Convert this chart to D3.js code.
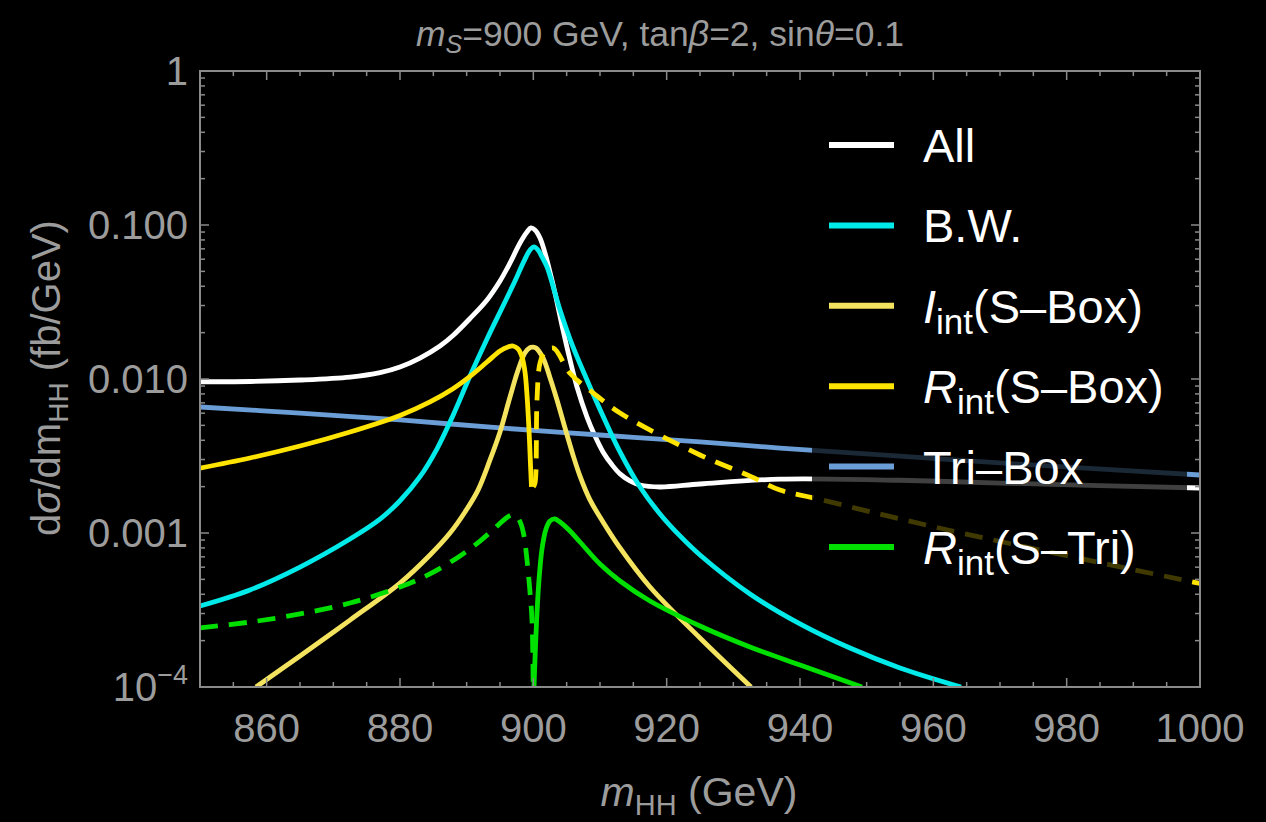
<!DOCTYPE html>
<html>
<head>
<meta charset="utf-8">
<script src="https://cdn.jsdelivr.net/npm/d3@7/dist/d3.min.js"></script>
<style>
  html, body { margin: 0; padding: 0; background: #000; }
  svg { display: block; }
  text { font-family: "Liberation Sans", Arial, sans-serif; }
</style>
</head>
<body>
<svg id="chart" width="1266" height="822"></svg>
<script>
// ---- data: m_HH (GeV) and dσ/dm_HH (fb/GeV) ----
const allM = [850, 857.5, 865, 872.5, 877, 880, 883, 886, 887.95, 890.5, 893.05, 895, 896.5, 898, 899.05, 899.65,
  900.25, 901, 901.75, 902.5, 903.25, 904.45, 905.5, 906.55, 908.05, 909.25, 910.45, 911.8, 913, 914.5, 916, 919, 925, 937, 955, 970, 1000];
const allV = [0.0096, 0.00963, 0.00985, 0.0103, 0.011, 0.01197, 0.01368, 0.01638, 0.01916, 0.0247, 0.0326, 0.0433, 0.0567, 0.0764, 0.0901, 0.0957,
  0.0928, 0.0824, 0.0658, 0.0495, 0.0362, 0.0208, 0.0133, 0.00887, 0.00566, 0.00426, 0.00336, 0.00277, 0.00242, 0.00218, 0.00205, 0.00199, 0.00208, 0.00224, 0.0022, 0.00211, 0.00196];

const bwM = [850, 857.5, 865, 872.5, 877, 880, 883, 885.55, 887.95, 890.5, 893.05, 895.45, 897.25, 898.6, 899.5, 900.1,
  900.7, 901.3, 902.05, 904, 905.95, 908.05, 910.45, 913, 916, 919, 922, 925, 932.5, 940, 947.5, 955, 964.15];
const bwV = [0.000336, 0.000427, 0.000601, 0.000914, 0.00123, 0.00162, 0.00232, 0.00352, 0.0058, 0.01045, 0.0182, 0.0298, 0.0433, 0.0583, 0.0688, 0.072,
  0.0688, 0.062, 0.0534, 0.0281, 0.01614, 0.00986, 0.00575, 0.00336, 0.00199, 0.00133, 0.000957, 0.00072, 0.000402, 0.000257, 0.000179, 0.000133, 0.0001];

const iSBoxM = [858.4, 865, 872.5, 880, 884.5, 887.5, 889.75, 891.7, 893.5, 895, 896.5, 897.7, 898.75, 899.5, 899.95,
  900.4, 901.45, 902.5, 903.55, 904.75, 905.95, 907, 908.5, 910.45, 913, 917.5, 925, 932.65];
const iSBoxV = [0.0001, 0.000159, 0.000272, 0.000473, 0.00072, 0.001, 0.00137, 0.0019, 0.00298, 0.00453, 0.00764, 0.0114, 0.0148, 0.016, 0.0161,
  0.0159, 0.0137, 0.0102, 0.00731, 0.00481, 0.00321, 0.00234, 0.00164, 0.00118, 0.0008, 0.000446, 0.000208, 0.0001];

// R_int(S-Box): positive part (solid) and |negative part| (dashed)
const rSBoxPosM = [850, 857.5, 865, 872.5, 880, 884.5, 887.95, 890.5, 893.05, 895, 896.2, 896.95, 897.7, 898.3, 898.75, 899.05, 899.35, 899.575, 899.725];
const rSBoxPosV = [0.00264, 0.00307, 0.00367, 0.00453, 0.0058, 0.0071, 0.00865, 0.0104, 0.01289, 0.0152, 0.01614, 0.01638, 0.01567, 0.0139, 0.0111, 0.00787, 0.00467, 0.00277, 0.00199];
const rSBoxNegM = [900, 900.25, 900.55, 901, 901.75, 903, 905.5, 909, 913, 925, 932.5, 937, 942, 962, 1000];
const rSBoxNegV = [0.00199, 0.00211, 0.00731, 0.0127, 0.015, 0.0159, 0.0109, 0.00811, 0.00601, 0.00321, 0.00234, 0.0019, 0.00169, 0.00105, 0.00047];

const triBoxM = [850, 865, 880, 895, 910, 925, 937, 955, 970, 1000];
const triBoxV = [0.00658, 0.00601, 0.00542, 0.00481, 0.00433, 0.0039, 0.00356, 0.00316, 0.00285, 0.00238];

// R_int(S-Tri): |negative part| (dashed) and positive part (solid)
const rSTriNegM = [850, 857.5, 865, 872.5, 880, 884.5, 889, 892, 894.25, 895.75, 896.8, 897.55, 898.15, 898.6, 899.05, 899.5, 899.8, 899.98];
const rSTriNegV = [0.000242, 0.000264, 0.000298, 0.000351, 0.000446, 0.000542, 0.00071, 0.000887, 0.001077, 0.001233, 0.00131, 0.00127, 0.001143, 0.000957, 0.000668, 0.000414, 0.000272, 0.0001];
const rSTriPosM = [900.1, 900.33, 900.55, 900.85, 901.3, 901.9, 902.5, 903.25, 904, 905.5, 907, 910, 913, 917.5, 925, 932.5, 940, 949.3];
const rSTriPosV = [0.0001, 0.000187, 0.000303, 0.000495, 0.000787, 0.001062, 0.001197, 0.001233, 0.001178, 0.00103, 0.000874, 0.000629, 0.000488, 0.000362, 0.000249, 0.000182, 0.000139, 0.0001];

const xTicks = [860, 880, 900, 920, 940, 960, 980, 1000];
const yTicks = [1e-4, 1e-3, 1e-2, 1e-1, 1];
const yTickLabels = ["10", "0.001", "0.010", "0.100", "1"];

const legendItems = [
  { main: "All", sub: "", tail: "", italic: false, color: "#ffffff" },
  { main: "B.W.", sub: "", tail: "", italic: false, color: "#00eaea" },
  { main: "I", sub: "int", tail: "(S\u2013Box)", italic: true, color: "#f4e35e" },
  { main: "R", sub: "int", tail: "(S\u2013Box)", italic: true, color: "#ffe400" },
  { main: "Tri\u2013Box", sub: "", tail: "", italic: false, color: "#6b9ed6" },
  { main: "R", sub: "int", tail: "(S\u2013Tri)", italic: true, color: "#00e000" }
];

// ---- layout ----
const plotL = 200, plotR = 1200, plotT = 71, plotB = 687;
const svg = d3.select("#chart");
svg.append("rect").attr("width", 1266).attr("height", 822).attr("fill", "#000");

const x = d3.scaleLinear().domain([850, 1000]).range([plotL, plotR]);
const y = d3.scaleLog().domain([1e-4, 1]).range([plotB, plotT]);

const gray = "#9c9c9c";
const frameColor = "#8a8a8a";

svg.append("defs").append("clipPath").attr("id", "plotclip")
  .append("rect").attr("x", plotL).attr("y", plotT).attr("width", plotR - plotL).attr("height", plotB - plotT);

// ---- curves ----
const line = d3.line().x(d => x(d[0])).y(d => y(d[1])).curve(d3.curveCatmullRom.alpha(0.5));
const zipPts = (ms, vs) => ms.map((m, i) => [m, vs[i]]);

const curves = [
  { pts: zipPts(allM, allV), color: "#ffffff", dash: null },
  { pts: zipPts(triBoxM, triBoxV), color: "#6b9ed6", dash: null },
  { pts: zipPts(bwM, bwV), color: "#00eaea", dash: null },
  { pts: zipPts(iSBoxM, iSBoxV), color: "#f4e35e", dash: null },
  { pts: zipPts(rSBoxPosM, rSBoxPosV), color: "#ffe400", dash: null },
  { pts: zipPts(rSBoxNegM, rSBoxNegV), color: "#ffe400", dash: "18,11" },
  { pts: zipPts(rSTriNegM, rSTriNegV), color: "#00e000", dash: "18,11" },
  { pts: zipPts(rSTriPosM, rSTriPosV), color: "#00e000", dash: null }
];

const plot = svg.append("g").attr("clip-path", "url(#plotclip)");
curves.forEach(c => {
  plot.append("path")
    .attr("d", line(c.pts))
    .attr("fill", "none")
    .attr("stroke", c.color)
    .attr("stroke-width", 4.8)
    .attr("stroke-dasharray", c.dash)
    .attr("stroke-linejoin", "round");
});

// ---- frame with ticks on all sides ----
const frame = svg.append("g");
frame.append("rect")
  .attr("x", plotL).attr("y", plotT).attr("width", plotR - plotL).attr("height", plotB - plotT)
  .attr("fill", "none").attr("stroke", frameColor).attr("stroke-width", 2);

const xMinor = d3.range(855, 1000, 5).filter(v => v % 20 !== 0);
const addXTicks = (vals, len) => {
  vals.forEach(v => {
    frame.append("line").attr("x1", x(v)).attr("x2", x(v)).attr("y1", plotB).attr("y2", plotB - len)
      .attr("stroke", frameColor).attr("stroke-width", 1.5);
    frame.append("line").attr("x1", x(v)).attr("x2", x(v)).attr("y1", plotT).attr("y2", plotT + len)
      .attr("stroke", frameColor).attr("stroke-width", 1.5);
  });
};
addXTicks(xTicks, 9);
addXTicks(xMinor, 5);

const yMinor = [];
[1e-4, 1e-3, 1e-2, 1e-1].forEach(d => { for (let k = 2; k <= 9; k++) yMinor.push(d * k); });
const addYTicks = (vals, len) => {
  vals.forEach(v => {
    frame.append("line").attr("x1", plotL).attr("x2", plotL + len).attr("y1", y(v)).attr("y2", y(v))
      .attr("stroke", frameColor).attr("stroke-width", 1.5);
    frame.append("line").attr("x1", plotR).attr("x2", plotR - len).attr("y1", y(v)).attr("y2", y(v))
      .attr("stroke", frameColor).attr("stroke-width", 1.5);
  });
};
addYTicks(yTicks, 9);
addYTicks(yMinor, 5);

// tick labels
xTicks.forEach(v => {
  svg.append("text").attr("x", x(v)).attr("y", 742)
    .attr("text-anchor", "middle").attr("font-size", 40).attr("fill", gray).text(v);
});
yTicks.forEach((v, i) => {
  const t = svg.append("text").attr("x", 188).attr("y", y(v) + 14)
    .attr("text-anchor", "end").attr("font-size", 40).attr("fill", gray);
  if (v === 1e-4) {
    t.append("tspan").text(yTickLabels[i]);
    t.append("tspan").attr("dy", -17).attr("font-size", 27).text("\u22124");
  } else {
    t.text(yTickLabels[i]);
  }
});

// ---- titles ----
const title = svg.append("text").attr("x", 660).attr("y", 46)
  .attr("text-anchor", "middle").attr("font-size", 35.5).attr("fill", gray);
title.append("tspan").attr("font-style", "italic").text("m");
title.append("tspan").attr("font-style", "italic").attr("font-size", 25).attr("dy", 7).text("S");
title.append("tspan").attr("dy", -7).text("=900 GeV, tan");
title.append("tspan").attr("font-style", "italic").text("\u03B2");
title.append("tspan").text("=2, sin");
title.append("tspan").attr("font-style", "italic").text("\u03B8");
title.append("tspan").text("=0.1");

const xLab = svg.append("text").attr("x", 699).attr("y", 806)
  .attr("text-anchor", "middle").attr("font-size", 41).attr("fill", gray);
xLab.append("tspan").attr("font-style", "italic").text("m");
xLab.append("tspan").attr("font-size", 29).attr("dy", 9).text("HH");
xLab.append("tspan").attr("dy", -9).text(" (GeV)");

const yLab = svg.append("text")
  .attr("transform", "translate(60,378) rotate(-90)")
  .attr("text-anchor", "middle").attr("font-size", 40).attr("fill", gray);
yLab.append("tspan").text("d");
yLab.append("tspan").attr("font-style", "italic").text("\u03C3");
yLab.append("tspan").text("/dm");
yLab.append("tspan").attr("font-size", 28).attr("dy", 8).text("HH");
yLab.append("tspan").attr("dy", -8).text(" (fb/GeV)");

// ---- legend on a translucent panel ----
svg.append("rect").attr("x", 812).attr("y", 110).attr("width", 375).attr("height", 485)
  .attr("fill", "#000").attr("opacity", 0.75);
const legY0 = 145, legStep = 80.4;
legendItems.forEach((it, i) => {
  const ly = legY0 + i * legStep;
  svg.append("line").attr("x1", 829).attr("x2", 894).attr("y1", ly).attr("y2", ly)
    .attr("stroke", it.color).attr("stroke-width", 6);
  const t = svg.append("text").attr("x", 923).attr("y", ly + 17)
    .attr("font-size", 47).attr("fill", "#ffffff");
  t.append("tspan").attr("font-style", it.italic ? "italic" : "normal").text(it.main);
  if (it.sub) {
    t.append("tspan").attr("font-size", 35).attr("dy", 11).text(it.sub);
    t.append("tspan").attr("dy", -11).text(it.tail);
  }
});
</script>
</body>
</html>
